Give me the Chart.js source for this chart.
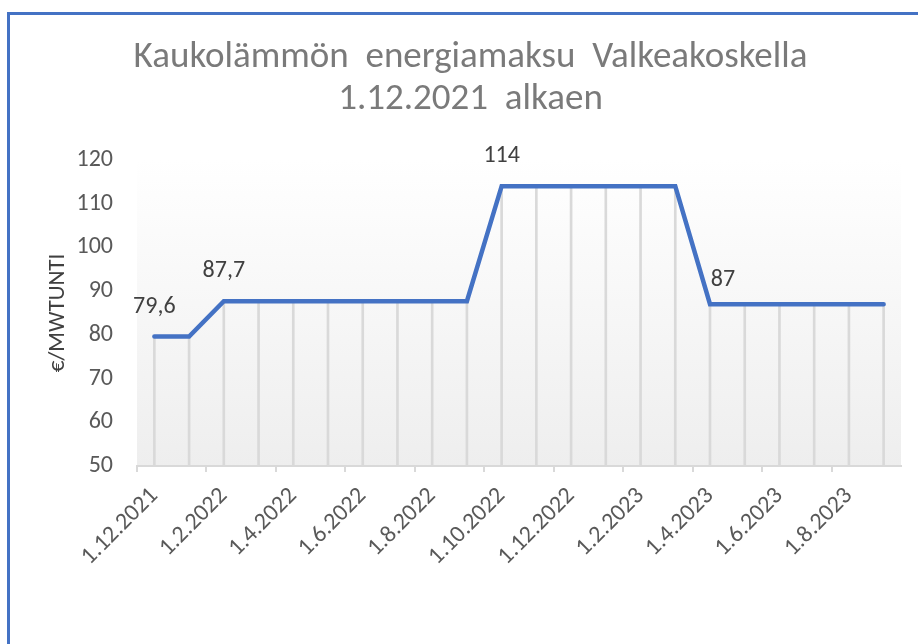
<!DOCTYPE html>
<html>
<head>
<meta charset="utf-8">
<script src="https://cdn.jsdelivr.net/npm/chart.js@4"></script>
<style>
body { margin: 0; background: #fff; }
#wrap { position: relative; width: 918px; height: 644px; overflow: hidden; }
#frame { position: absolute; left: 7px; top: 12px; width: 960px; height: 700px;
  border-left: 3px solid #4472c4; border-top: 3px solid #4472c4; pointer-events: none; }
</style>
</head>
<body>
<div id="wrap">
  <canvas id="energiamaksu" width="918" height="644"></canvas>
  <div id="frame"></div>
</div>
<script>
// kuukaudet 1.12.2021 - 1.9.2023
const kuukaudet = [
  '1.12.2021', '1.1.2022', '1.2.2022', '1.3.2022', '1.4.2022', '1.5.2022',
  '1.6.2022', '1.7.2022', '1.8.2022', '1.9.2022', '1.10.2022', '1.11.2022',
  '1.12.2022', '1.1.2023', '1.2.2023', '1.3.2023', '1.4.2023', '1.5.2023',
  '1.6.2023', '1.7.2023', '1.8.2023', '1.9.2023'
];

// €/MWh
const energiamaksu = [
  79.6, 79.6,
  87.7, 87.7, 87.7, 87.7, 87.7, 87.7, 87.7, 87.7,
  114, 114, 114, 114, 114, 114,
  87, 87, 87, 87, 87, 87
];

// pisteet joihin arvo kirjoitetaan
const tarraKohdat = [0, 2, 10, 16];

const yTicks = [50, 60, 70, 80, 90, 100, 110, 120];

const fontti = 'Carlito, Calibri, Lato, sans-serif';

const taustaGradientti = {
  id: 'taustaGradientti',
  beforeDraw(chart) {
    const { ctx, chartArea } = chart;
    const g = ctx.createLinearGradient(0, chartArea.top, 0, chartArea.bottom);
    g.addColorStop(0, '#ffffff');
    g.addColorStop(1, '#eeeeee');
    ctx.save();
    ctx.fillStyle = g;
    ctx.fillRect(chartArea.left, chartArea.top, chartArea.width, chartArea.height);
    ctx.restore();
  }
};

const arvoTarrat = {
  id: 'arvoTarrat',
  afterDatasetsDraw(chart) {
    const meta = chart.getDatasetMeta(1);
    const ctx = chart.ctx;
    ctx.save();
    ctx.font = '24px ' + fontti;
    ctx.fillStyle = '#404040';
    ctx.textAlign = 'center';
    ctx.textBaseline = 'middle';
    tarraKohdat.forEach(i => {
      const p = meta.data[i];
      const teksti = String(energiamaksu[i]).replace('.', ',');
      // viimeinen tarra on pisteen oikealla puolella
      if (i === 16) {
        ctx.fillText(teksti, p.x + 13, p.y - 24);
      } else {
        ctx.fillText(teksti, p.x, p.y - 30);
      }
    });
    ctx.restore();
  }
};

const ctxEnergia = document.getElementById('energiamaksu');

const dataEnergia = {
  labels: kuukaudet,
  datasets: [{
    // pystyviivat pisteistä akselille
    type: 'bar',
    data: energiamaksu,
    backgroundColor: '#d9d9d9',
    barThickness: 2,
    order: 2
  }, {
    type: 'line',
    label: 'Energiamaksu',
    data: energiamaksu,
    borderColor: '#4472c4',
    borderWidth: 4.5,
    borderCapStyle: 'round',
    pointRadius: 0,
    tension: 0,
    order: 1
  }]
};

const configEnergia = {
  type: 'bar',
  data: dataEnergia,
  plugins: [taustaGradientti, arvoTarrat],
  options: {
    responsive: false,
    animation: false,
    layout: {
      padding: { top: 12, left: 40, right: 17, bottom: 0 }
    },
    plugins: {
      legend: { display: false },
      tooltip: { enabled: false },
      title: {
        display: true,
        text: ['Kaukolämmön  energiamaksu  Valkeakoskella', '1.12.2021  alkaen'],
        color: '#7a7a7a',
        font: { family: fontti, size: 37, weight: 'normal', lineHeight: 1.135 },
        padding: { top: 25, bottom: 39 }
      }
    },
    scales: {
      x: {
        offset: true,
        grid: {
          offset: true,
          drawOnChartArea: false,
          tickLength: 6,
          color: c => (c.index % 2 === 0 ? '#d9d9d9' : 'rgba(0,0,0,0)'),
          lineWidth: 2
        },
        border: { display: true, color: '#d9d9d9', width: 2 },
        ticks: {
          autoSkip: false,
          minRotation: 45,
          maxRotation: 45,
          padding: 10,
          color: '#595959',
          font: { family: fontti, size: 24 },
          callback: function (v, i) {
            return i % 2 === 0 ? kuukaudet[i] : '';
          }
        },
        afterFit: s => { s.height = 178; }
      },
      y: {
        min: 50,
        max: 120,
        afterBuildTicks: s => { s.ticks = yTicks.map(v => ({ value: v })); },
        grid: { display: false, drawTicks: false },
        border: { display: false },
        ticks: {
          padding: 24,
          color: '#595959',
          font: { family: fontti, size: 24 }
        },
        title: {
          display: true,
          text: '€/MWTUNTI',
          color: '#404040',
          font: { family: fontti, size: 23 },
          padding: { top: 4, bottom: 0 }
        },
        afterFit: s => { s.width = 97; }
      }
    }
  }
};

const chartEnergia = new Chart(ctxEnergia, configEnergia);
</script>
</body>
</html>
